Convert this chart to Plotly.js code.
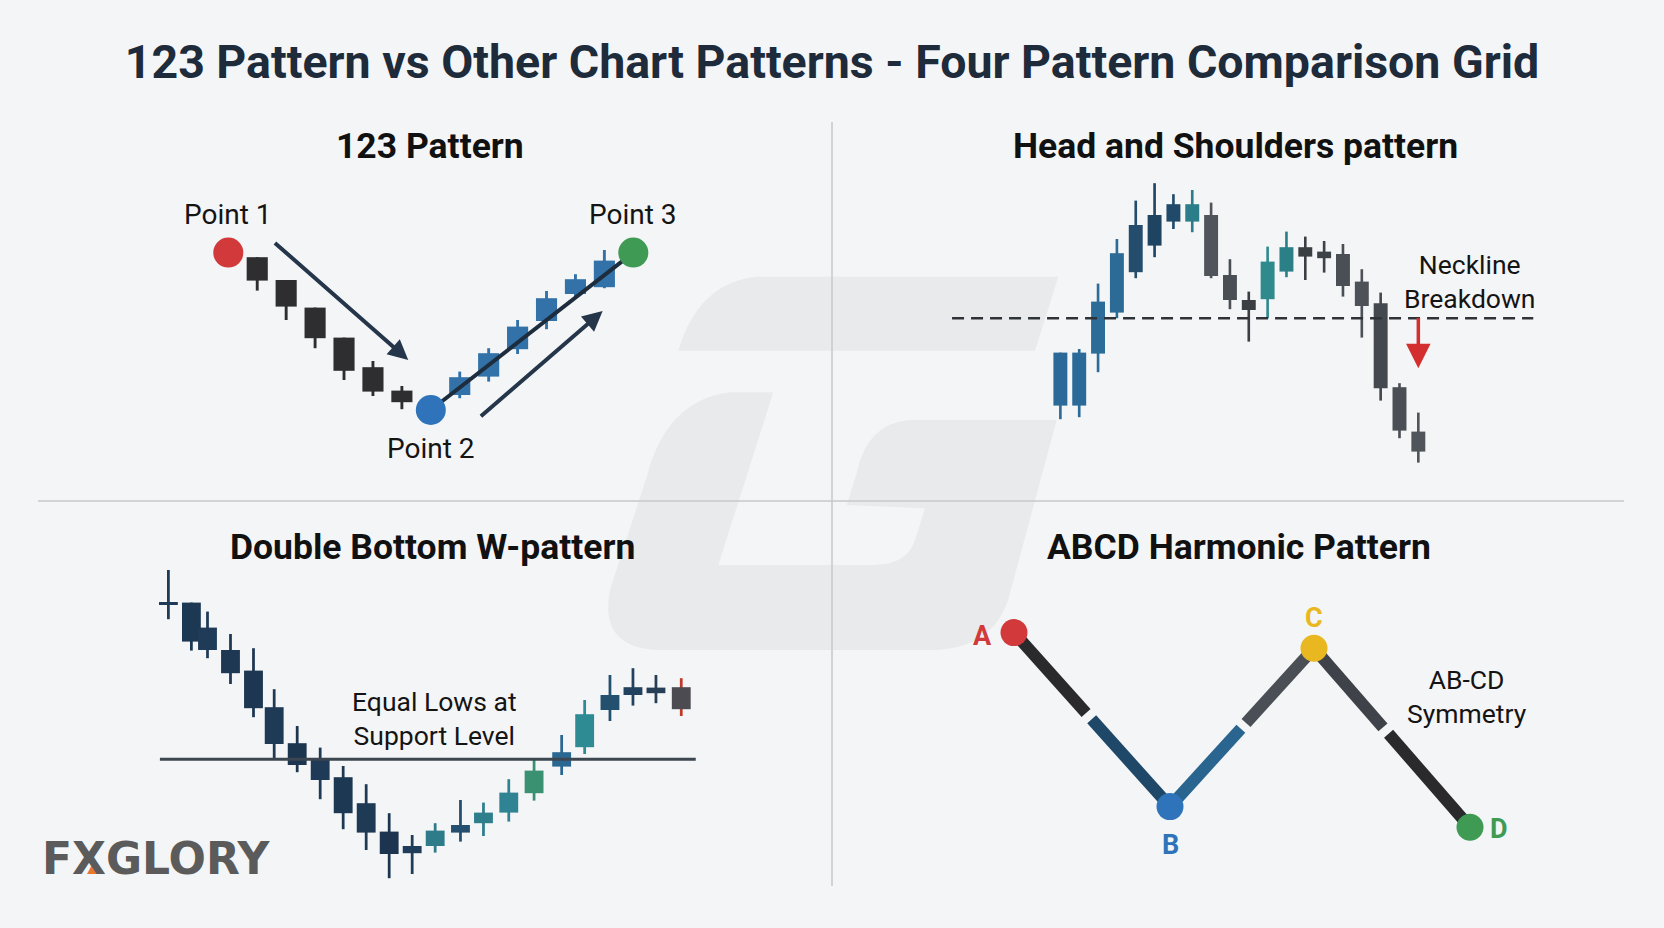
<!DOCTYPE html>
<html><head><meta charset="utf-8">
<script src="https://cdn.plot.ly/plotly-3.0.1.min.js"></script>
<style>html,body{margin:0;padding:0;background:#f4f5f6;}#chart{width:1664px;height:928px;}</style>
</head><body><div id="chart"></div>
<script>
// ================= DATA =================
const mainTitle = '123 Pattern vs Other Chart Patterns - Four Pattern Comparison Grid';
const panelTitles = ['123 Pattern', 'Head and Shoulders pattern', 'Double Bottom W-pattern', 'ABCD Harmonic Pattern'];

// Panel 1: 123 Pattern
const p1Labels = ['Point 1', 'Point 2', 'Point 3'];
const p1PointX = [0, 7, 14];
const p1PointY = [113.7, 35.0, 113.7];
const p1PointColors = ['#d1393a', '#2f74ba', '#3f9b54'];
const p1X     = [1, 2, 3, 4, 5, 6, 8, 9, 10, 11, 12, 13];
const p1Open  = [111.4, 100.0, 86.2, 71.2, 56.4, 44.7, 42.5, 51.7, 65.4, 79.5, 93.0, 96.4];
const p1High  = [111.4, 100.0, 86.2, 71.2, 59.5, 47.0, 54.2, 65.9, 80.0, 94.5, 102.9, 115.0];
const p1Low   = [94.7, 80.0, 65.9, 50.0, 42.0, 35.4, 40.9, 49.2, 63.0, 75.4, 90.9, 95.9];
const p1Close = [99.7, 86.7, 70.9, 54.6, 44.2, 38.9, 51.4, 63.4, 76.7, 90.9, 100.4, 109.7];
const p1Colors = ['#2e2e30','#2e2e30','#2e2e30','#2e2e30','#2e2e30','#2e2e30',
                  '#3272a8','#3272a8','#3272a8','#3272a8','#3272a8','#3272a8'];
const p1ArrowTailX = [1.56, 8.68];
const p1ArrowTailY = [119.2, 31.2];
const p1ArrowHeadX = [6.22, 12.94];
const p1ArrowHeadY = [60.0, 84.5];

// Panel 2: Head and Shoulders
const p2X     = [0,1,2,3,4,5,6,7,8,9,10,11,12,13,14,15,16,17,18,19];
const p2Open  = [37.2, 37.2, 63.2, 83.7, 103.9, 117.2, 129.2, 129.2, 132.5, 102.5, 90.0, 90.4, 104.2, 116.4, 114.2, 113.0, 99.2, 88.4, 46.4, 24.2];
const p2High  = [63.7, 65.5, 98.2, 120.5, 139.7, 148.4, 142.9, 145.0, 138.7, 110.4, 94.2, 116.7, 124.2, 121.7, 119.5, 118.0, 105.4, 93.7, 48.4, 33.7];
const p2Low   = [30.4, 31.4, 53.9, 80.9, 100.9, 111.4, 125.5, 123.9, 100.9, 85.4, 69.2, 80.9, 101.4, 100.0, 103.7, 91.7, 71.2, 39.7, 20.9, 8.7];
const p2Close = [63.7, 63.7, 89.2, 113.4, 127.5, 132.5, 137.9, 137.9, 102.0, 90.0, 85.0, 109.2, 116.4, 111.7, 110.9, 97.0, 87.0, 45.9, 24.7, 14.2];
const p2Colors = ['#2b6a98','#2b6a98','#2c6c98','#2b6b95','#244c6d','#1f4462','#214a6a','#2c7d8a',
                  '#50555b','#4a4f55','#3a3f44','#2f8a8e','#2b8088','#3a3f44','#3d4248','#4a4f55',
                  '#4d5258','#44494f','#4a4f55','#50555b'];
const p2Neckline = 80.9;
const p2NeckX = [-5.75, 25.1];
const p2ArrowX = 19, p2ArrowFrom = 81.7, p2ArrowTo = 55.9;
const p2Note = 'Neckline<br>Breakdown';

// Panel 3: Double Bottom
const p3X     = [0.8,1.8,2.5,3.5,4.5,5.4,6.4,7.4,8.4,9.4,10.4,11.4,12.4,13.5,14.5,15.6,16.7,17.9,18.9,20.0,21.0,22.0,23.1];
const p3Open  = [149.0,148.7,136.2,125.0,114.7,96.4,78.4,70.4,61.4,48.4,34.2,23.4,27.0,33.7,38.4,43.7,53.4,66.7,76.4,95.0,102.5,103.4,106.4];
const p3High  = [165.0,148.7,144.2,133.0,125.9,105.4,87.0,76.2,67.0,57.9,43.4,32.5,38.4,50.0,48.7,60.4,70.0,82.5,100.0,112.5,115.9,112.5,110.9];
const p3Low   = [140.4,124.7,120.9,108.0,91.4,70.9,63.9,50.4,35.4,25.0,10.9,13.0,23.7,29.2,32.0,39.2,49.7,62.5,73.0,89.5,97.2,98.4,92.0];
const p3Close = [147.5,129.2,125.0,113.4,95.9,78.0,67.5,60.0,43.4,33.7,23.0,27.0,34.7,37.5,43.7,53.7,64.7,73.9,92.9,102.5,106.4,106.2,95.4];
const p3Colors = ['#1f3a56','#1d3853','#1f3b57','#1e3854','#1d3752','#1e3a55','#1c3650','#1e3a56','#1d3852','#1e3a55','#1c344f',
                  '#1f3c5a','#2e7b8a','#244f70','#2e7e8c','#2f8392','#3a9171','#2b6891','#2f8b93','#24506f','#22415e','#263f57','#4b4b51'];
const p3WickColors = p3Colors.slice(0, 22).concat(['#c0392b']);
const p3Support = 70.4;
const p3SupportX = [0.43, 23.73];
const p3Note = 'Equal Lows at<br>Support Level';
const p3NoteX = 12.35, p3NoteY = 91.0;

// Panel 4: ABCD Harmonic
const p4Labels = ['A', 'B', 'C', 'D'];
const p4X = [2.7, 10.5, 17.7, 25.5];
const p4Y = [133.7, 46.7, 125.9, 36.4];
const p4Colors = ['#d1393a', '#2f74ba', '#e9b820', '#3f9b54'];
const p4LegSplit = [0.48, 0.51, 0.46];
const p4LegColors = [['#2a2a2c', '#1f4868'], ['#2a6590', '#4a4e55'], ['#3f4248', '#2a2a2c']];
const p4Note = 'AB-CD<br>Symmetry';
const p4NoteX = 25.34, p4NoteY = 101.6;

const brand = 'FXGLORY';

// ================= HELPERS =================
const W = 1664, H = 928;
const PX = x => x / W;
const PY = y => 1 - y / H;
const dx = (a, b) => [PX(a), PX(b)];
const dy = (top, bottom) => [PY(bottom), PY(top)];
const toPaper = s => s.replace(/(-?[\d.]+),(-?[\d.]+)/g, (m, a, b) => PX(+a).toFixed(5) + ',' + PY(+b).toFixed(5));

function candles(xa, ya, x, o, h, l, c, colors, wickColors, bodyW, wickW, minH) {
  const hgt = o.map((v, i) => Math.max(Math.abs(c[i] - v), minH));
  const base = o.map((v, i) => (v + c[i]) / 2 - hgt[i] / 2);
  return [
    {type: 'bar', x: x, base: l, y: h.map((v, i) => v - l[i]), width: wickW,
     marker: {color: wickColors, line: {width: 0}}, xaxis: xa, yaxis: ya, hoverinfo: 'skip', showlegend: false},
    {type: 'bar', x: x, base: base, y: hgt, width: bodyW,
     marker: {color: colors, line: {width: 0}}, xaxis: xa, yaxis: ya, hoverinfo: 'skip', showlegend: false}
  ];
}

const FAM = 'Roboto, Arial, sans-serif';
const labelFont = {family: FAM, size: 26.5, color: '#141414'};
const pointFont = {family: FAM, size: 28, color: '#141414'};
const traces = [];
const annotations = [];

// ---- Panel 1 ----
traces.push(...candles('x', 'y', p1X, p1Open, p1High, p1Low, p1Close, p1Colors, p1Colors, 0.73, 0.1, 1));
traces.push({type: 'scatter', mode: 'lines', x: p1PointX.slice(1), y: p1PointY.slice(1),
  line: {color: '#1e2d3d', width: 4}, xaxis: 'x', yaxis: 'y', hoverinfo: 'skip', showlegend: false});
traces.push({type: 'scatter', mode: 'markers', x: p1PointX, y: p1PointY,
  marker: {size: 30, color: p1PointColors, line: {width: 0}}, cliponaxis: false,
  xaxis: 'x', yaxis: 'y', hoverinfo: 'skip', showlegend: false});
p1Labels.forEach((t, i) => annotations.push({xref: 'x', yref: 'y', x: p1PointX[i], y: p1PointY[i],
  xanchor: 'center', yanchor: 'middle',
  yshift: i === 1 ? -38 : 38, text: t, showarrow: false, font: pointFont}));
p1ArrowTailX.forEach((v, i) => annotations.push({xref: 'x', yref: 'y', axref: 'x', ayref: 'y',
  x: p1ArrowHeadX[i], y: p1ArrowHeadY[i], ax: v, ay: p1ArrowTailY[i], text: '', showarrow: true,
  arrowhead: 2, arrowsize: 1, arrowwidth: 4, arrowcolor: '#25364a', standoff: 0}));

// ---- Panel 2 ----
traces.push({type: 'scatter', mode: 'lines', x: p2NeckX, y: [p2Neckline, p2Neckline],
  line: {color: '#2f3338', width: 2.5, dash: '12px,7px'}, xaxis: 'x2', yaxis: 'y2', hoverinfo: 'skip', showlegend: false});
traces.push(...candles('x2', 'y2', p2X, p2Open, p2High, p2Low, p2Close, p2Colors, p2Colors, 0.74, 0.14, 1));
annotations.push({xref: 'x2', yref: 'y2', axref: 'x2', ayref: 'y2', x: p2ArrowX, y: p2ArrowTo,
  ax: p2ArrowX, ay: p2ArrowFrom, text: '', showarrow: true, arrowhead: 2, arrowsize: 1.4,
  arrowwidth: 3.5, arrowcolor: '#d32f2f', standoff: 0});
annotations.push({xref: 'x2', yref: 'y2', x: 21.74, y: 99.2, xanchor: 'center', yanchor: 'middle',
  text: p2Note, showarrow: false, font: labelFont, align: 'center'});

// ---- Panel 3 ----
traces.push({type: 'scatter', mode: 'lines', x: p3SupportX, y: [p3Support, p3Support],
  line: {color: '#3b4650', width: 3}, xaxis: 'x3', yaxis: 'y3', hoverinfo: 'skip', showlegend: false});
traces.push(...candles('x3', 'y3', p3X, p3Open, p3High, p3Low, p3Close, p3Colors, p3WickColors, 0.82, 0.12, 1.3));
annotations.push({xref: 'x3', yref: 'y3', x: p3NoteX, y: p3NoteY, xanchor: 'center', yanchor: 'middle',
  text: p3Note, showarrow: false, font: labelFont, align: 'center'});

// ---- Panel 4 ----
const gap = 0.018;
for (let k = 0; k < 3; k++) {
  const x0 = p4X[k], y0 = p4Y[k], x1 = p4X[k + 1], y1 = p4Y[k + 1], s = p4LegSplit[k];
  const at = f => [x0 + (x1 - x0) * f, y0 + (y1 - y0) * f];
  const parts = [[0, s - gap], [s + gap, 1]];
  parts.forEach((pp, j) => {
    const a = at(pp[0]), b = at(pp[1]);
    traces.push({type: 'scatter', mode: 'lines', x: [a[0], b[0]], y: [a[1], b[1]],
      line: {color: p4LegColors[k][j], width: 12}, xaxis: 'x4', yaxis: 'y4', hoverinfo: 'skip', showlegend: false});
  });
}
traces.push({type: 'scatter', mode: 'markers', x: p4X, y: p4Y,
  marker: {size: 27, color: p4Colors, line: {width: 0}}, cliponaxis: false,
  xaxis: 'x4', yaxis: 'y4', hoverinfo: 'skip', showlegend: false});
const p4Shift = [[-31, -3], [0, -38], [0, 30], [29, -2]];
p4Labels.forEach((t, i) => annotations.push({xref: 'x4', yref: 'y4', x: p4X[i], y: p4Y[i],
  xanchor: 'center', yanchor: 'middle',
  xshift: p4Shift[i][0], yshift: p4Shift[i][1], text: t, showarrow: false,
  font: {family: FAM, size: 27, color: p4Colors[i], weight: 700}}));
annotations.push({xref: 'x4', yref: 'y4', x: p4NoteX, y: p4NoteY, xanchor: 'center', yanchor: 'middle',
  text: p4Note, showarrow: false, font: labelFont, align: 'center'});

// ---- Panel titles ----
const titlePos = [[430, 146], [1235, 146], [432, 547], [1239, 547]];
panelTitles.forEach((t, i) => annotations.push({xref: 'paper', yref: 'paper', x: PX(titlePos[i][0]), y: PY(titlePos[i][1]),
  xanchor: 'center', yanchor: 'middle',
  text: t, showarrow: false, font: {family: FAM, size: 35.5, color: '#111111', weight: 700}}));

// ---- Brand ----
annotations.push({xref: 'paper', yref: 'paper', x: PX(40), y: PY(858), xanchor: 'left', yanchor: 'middle',
  text: brand, showarrow: false, font: {family: 'DejaVu Sans, sans-serif', size: 44, color: '#5b5b5b', weight: 700}});

// ================= LAYOUT =================
const hidden = (dom, range) => ({domain: dom, range: range, visible: false, fixedrange: true,
  showgrid: false, zeroline: false, showticklabels: false});

const shapes = [
  {type: 'path', xref: 'paper', yref: 'paper', layer: 'below', fillcolor: '#e9eaeb', line: {width: 0},
   path: toPaper('M 756.7,276.7 L 1058.3,276.7 L 1035,350.7 L 678.3,350.7 Q 698,283 756.7,276.7 Z')},
  {type: 'path', xref: 'paper', yref: 'paper', layer: 'below', fillcolor: '#e9eaeb', line: {width: 0},
   path: toPaper('M 773.3,392.3 L 730,392.3 Q 666.7,400 646.7,476.7 L 610,590 Q 598,650 663.3,650 L 936.7,650 Q 996.7,646.7 1010,593.3 L 1056.7,420 L 910,420 Q 866.7,423.3 856.7,473.3 L 846.7,505 L 925,508.3 L 915,540 Q 906.7,565 873.3,565 L 718.3,565 Z')},
  {type: 'line', xref: 'paper', yref: 'paper', layer: 'below', x0: PX(832), x1: PX(832), y0: PY(122), y1: PY(886),
   line: {color: '#c6c8ca', width: 1.5}},
  {type: 'line', xref: 'paper', yref: 'paper', layer: 'below', x0: PX(38), x1: PX(1624), y0: PY(501), y1: PY(501),
   line: {color: '#c6c8ca', width: 1.5}},
  {type: 'path', xref: 'paper', yref: 'paper', layer: 'above', fillcolor: '#e8792b', line: {width: 0},
   path: toPaper('M 87,874 L 94,861 L 100,874 Z')}
];

const layout = {
  width: W, height: H, autosize: false,
  margin: {l: 0, r: 0, t: 0, b: 0, pad: 0},
  paper_bgcolor: '#f4f5f6', plot_bgcolor: 'rgba(0,0,0,0)',
  showlegend: false, hovermode: false, barmode: 'overlay',
  title: {text: mainTitle, x: 0.5, xanchor: 'center', y: PY(62), yanchor: 'middle',
    font: {family: FAM, size: 46.5, color: '#1e2b3a', weight: 700}},
  xaxis: hidden(dx(160, 680), [-2.361, 15.614]),
  yaxis: hidden(dy(180, 470), [5, 150]),
  xaxis2: hidden(dx(940, 1560), [-6.39, 26.52]),
  yaxis2: hidden(dy(170, 470), [5, 155]),
  xaxis3: hidden(dx(150, 710), [0, 24.35]),
  yaxis3: hidden(dy(555, 890), [5, 172.5]),
  xaxis4: hidden(dx(960, 1540), [0, 29]),
  yaxis4: hidden(dy(590, 860), [20, 155]),
  annotations: annotations,
  shapes: shapes
};
layout.yaxis.anchor = 'x'; layout.xaxis.anchor = 'y';
layout.yaxis2.anchor = 'x2'; layout.xaxis2.anchor = 'y2';
layout.yaxis3.anchor = 'x3'; layout.xaxis3.anchor = 'y3';
layout.yaxis4.anchor = 'x4'; layout.xaxis4.anchor = 'y4';

Plotly.newPlot('chart', traces, layout, {displayModeBar: false, staticPlot: true});
</script>
</body></html>
